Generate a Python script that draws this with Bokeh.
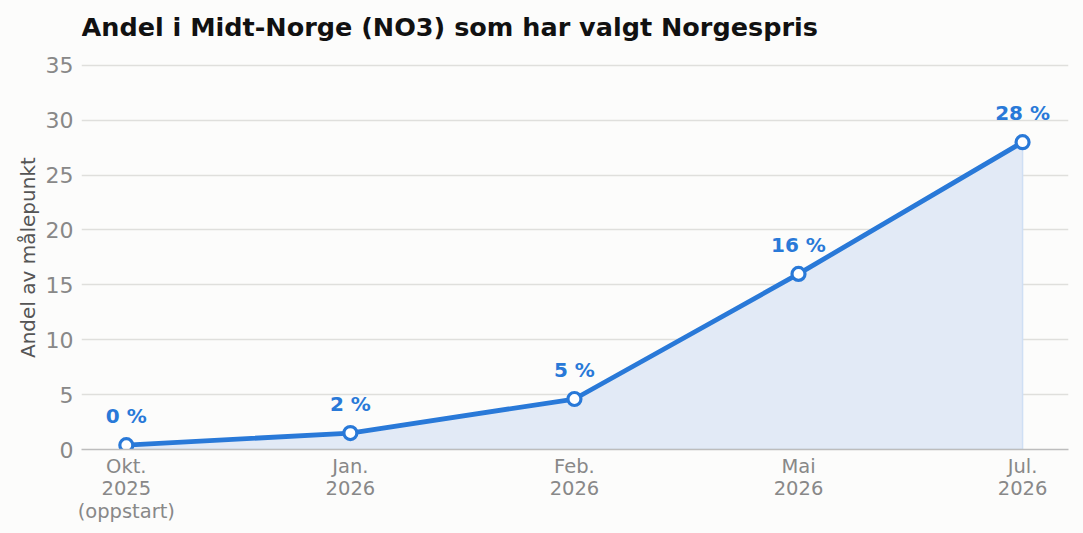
from bokeh.plotting import figure
from bokeh.models import ColumnDataSource, FixedTicker, Range1d, LabelSet, Label
from bokeh.core.properties import value
from bokeh.embed import file_html
from bokeh.resources import INLINE

title_text = "Andel i Midt-Norge (NO3) som har valgt Norgespris"
y_label = "Andel av målepunkt"
categories = ["Okt.\n2025\n(oppstart)", "Jan.\n2026", "Feb.\n2026", "Mai\n2026", "Jul.\n2026"]
values = [0.4, 1.5, 4.6, 16.0, 28.0]
value_labels = ["0 %", "2 %", "5 %", "16 %", "28 %"]
y_ticks = [0, 5, 10, 15, 20, 25, 30, 35]

BG = "#fcfcfb"
BLUE = "#2979d8"
FONT = "DejaVu Sans"

idx = list(range(len(categories)))
src = ColumnDataSource(dict(x=idx, y=values, lab=value_labels))

W, H = 1067, 517
MB = 75
frame_h = H - MB
PX_PER_UNIT = 385 / 35.0  # plot rows 0..35 span 385 px, extra room above for the title
p = figure(width=W, height=H, output_backend="svg", toolbar_location=None,
           x_range=Range1d(-0.2, len(categories) - 1 + 0.205),
           y_range=Range1d(0, frame_h / PX_PER_UNIT),
           min_border_left=73, min_border_right=7, min_border_top=0, min_border_bottom=MB,
           background_fill_color=BG, border_fill_color=BG, outline_line_color=None)

title = Label(x=0, y=frame_h - 19, x_units="screen", y_units="screen", text=title_text,
              text_font=FONT, text_font_size="25.5px", text_font_style="bold",
              text_color="#111111", text_align="left", text_baseline="middle")
p.add_layout(title)

# area
px = idx + [idx[-1], idx[0]]
py = values + [0, 0]
p.patch(px, py, fill_color="#e2eaf6", fill_alpha=1.0, line_color="#cfdff4", line_width=1.5)

p.line("x", "y", source=src, line_color=BLUE, line_width=4.8)
p.scatter("x", "y", source=src, size=13, fill_color="white", line_color=BLUE, line_width=3.2)

labels = LabelSet(x="x", y="y", text="lab", source=src, x_offset=0, y_offset=17,
                  text_align="center", text_baseline="bottom", text_font=value(FONT),
                  text_font_size=value("20px"), text_font_style="bold", text_color=BLUE)
p.add_layout(labels)

# axes
p.xaxis.ticker = FixedTicker(ticks=idx)
p.xaxis.major_label_overrides = {i: c for i, c in zip(idx, categories)}
p.xaxis.major_label_text_font = FONT
p.xaxis.major_label_text_font_size = "19.5px"
p.xaxis.major_label_text_color = "#888888"
p.xaxis.major_label_text_line_height = 0.98
p.xaxis.major_label_standoff = 5
p.xaxis.major_tick_out = 0
p.xaxis.major_tick_in = 0
p.xaxis.major_tick_line_color = None
p.xaxis.minor_tick_line_color = None
p.xaxis.axis_line_color = "#bdbdbd"
p.xaxis.axis_line_width = 1.5

p.yaxis.ticker = FixedTicker(ticks=y_ticks)
p.yaxis.major_label_text_font = FONT
p.yaxis.major_label_text_font_size = "22px"
p.yaxis.major_label_text_color = "#888888"
p.yaxis.major_label_standoff = 8
p.yaxis.major_tick_out = 0
p.yaxis.major_tick_in = 0
p.yaxis.major_tick_line_color = None
p.yaxis.minor_tick_line_color = None
p.yaxis.axis_line_color = None
# trailing no-break spaces keep the label centred on the 0-35 part of the axis
p.yaxis.axis_label = y_label + "\u00a0" * 9
p.yaxis.axis_label_text_font = FONT
p.yaxis.axis_label_text_font_size = "20px"
p.yaxis.axis_label_text_font_style = "normal"
p.yaxis.axis_label_text_color = "#555555"
p.yaxis.axis_label_standoff = 3

p.xgrid.grid_line_color = None
p.ygrid.ticker = FixedTicker(ticks=y_ticks[1:])
p.ygrid.grid_line_color = "#dfdfdc"
p.ygrid.grid_line_width = 1.5

html = file_html(p, INLINE)
html = html.replace("<body>", "<body style=\"background:%s;margin:8px\">" % BG)
open("out.html", "w").write(html)
